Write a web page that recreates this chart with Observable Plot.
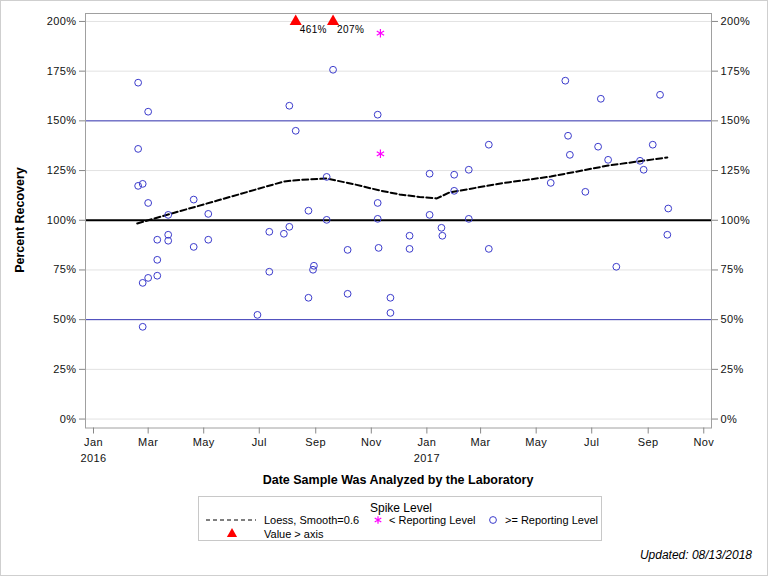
<!DOCTYPE html>
<html>
<head>
<meta charset="utf-8">
<script src="https://cdn.jsdelivr.net/npm/d3@7"></script>
<script src="https://cdn.jsdelivr.net/npm/@observablehq/plot@0.6"></script>
<style>
  body { margin: 0; background: #fff; font-family: "Liberation Sans", Arial, sans-serif; }
  #wrap { position: relative; width: 768px; height: 576px; overflow: hidden; background: #fff; }
  #chart { position: absolute; left: 0; top: 0; }
  #chart svg { font-family: "Liberation Sans", Arial, sans-serif; letter-spacing: 0.4px; }
  .ttl { position: absolute; font-weight: bold; font-size: 12.5px; color: #000; white-space: nowrap; }
  #ytitle { left: 20px; top: 220px; transform: translate(-50%, -50%) rotate(-90deg); }
  #xtitle { left: 398px; top: 480px; transform: translate(-50%, -50%); }
  #legend { position: absolute; left: 198px; top: 496px; }
  #updated { position: absolute; right: 16px; top: 548px; font-style: italic; font-size: 12px; color: #000; }
  #border { position: absolute; left: 0; top: 0; width: 768px; height: 576px; box-sizing: border-box; border: 1px solid #cfcfcf; pointer-events: none; }
</style>
</head>
<body>
<div id="wrap">
  <div id="chart"></div>
  <div class="ttl" id="ytitle">Percent Recovery</div>
  <div class="ttl" id="xtitle">Date Sample Was Analyzed by the Laboratory</div>
  <div id="legend"></div>
  <div id="updated">Updated: 08/13/2018</div>
  <div id="border"></div>
</div>
<script>
// Spike recoveries at or above the reporting level (open circles)
const circleDates = [
  "2016-02-19", "2016-03-01", "2016-02-19", "2016-02-19", "2016-02-24", "2016-03-01",
  "2016-04-20", "2016-03-23", "2016-05-06", "2016-03-11", "2016-03-23", "2016-03-23",
  "2016-04-20", "2016-05-06", "2016-03-11", "2016-02-24", "2016-03-01", "2016-03-11",
  "2016-02-24", "2016-06-29", "2016-07-12", "2016-07-12", "2016-07-28", "2016-08-03",
  "2016-08-03", "2016-08-10", "2016-08-24", "2016-08-24", "2016-08-30", "2016-08-29",
  "2016-09-13", "2016-09-13", "2016-09-20", "2016-10-06", "2016-10-06", "2016-11-08",
  "2016-11-08", "2016-11-08", "2016-11-09", "2016-11-22", "2016-11-22", "2016-12-13",
  "2016-12-13", "2017-01-04", "2017-01-04", "2017-01-17", "2017-01-18", "2017-01-31",
  "2017-01-31", "2017-02-16", "2017-02-16", "2017-03-10", "2017-03-10", "2017-05-17",
  "2017-06-02", "2017-06-05", "2017-06-07", "2017-06-24", "2017-07-08", "2017-07-11",
  "2017-07-19", "2017-07-28", "2017-08-23", "2017-08-27", "2017-09-06", "2017-09-14",
  "2017-09-23", "2017-09-22"
];
const circleValues = [
  169.2, 154.6, 135.9, 117.3, 118.3, 108.7,
  110.4, 102.7, 103.2, 90.2, 92.7, 89.7,
  86.6, 90.2, 80.1, 68.5, 71.0, 72.1,
  46.4, 52.4, 94.2, 74.1, 93.2, 96.7,
  157.6, 145.0, 104.8, 61.0, 77.1, 75.1,
  121.8, 100.2, 175.7, 85.1, 63.0, 153.1,
  108.7, 100.7, 86.1, 61.0, 53.4, 92.2,
  85.6, 123.4, 102.7, 96.2, 92.2, 122.9,
  114.8, 125.4, 100.7, 138.0, 85.6, 118.8,
  170.2, 142.5, 132.9, 114.3, 137.0, 161.1,
  130.4, 76.6, 129.9, 125.4, 138.0, 163.1,
  105.9, 92.7
];

// Spike recoveries below the reporting level (asterisks)
const starDates = ["2016-11-11", "2016-11-11"];
const starValues = [194.1, 133.4];

// Recoveries beyond the top of the axis, drawn at the axis limit
const overDates = ["2016-08-10", "2016-09-20"];
const overValues = [461, 207];

// Loess fit, smoothing parameter 0.6
const loessDates = [
  "2016-02-18", "2016-03-23", "2016-05-16", "2016-07-28", "2016-08-15", "2016-09-13",
  "2016-10-14", "2016-11-10", "2016-12-02", "2016-12-24", "2017-01-12", "2017-01-26",
  "2017-03-23", "2017-05-17", "2017-07-19", "2017-09-22"
];
const loessValues = [
  98.4, 102.9, 109.9, 119.5, 120.3, 121.0,
  118.0, 115.0, 113.0, 111.7, 111.0, 114.0,
  118.5, 122.0, 127.5, 131.6
];

// Axis ticks
const yTicks = [0, 25, 50, 75, 100, 125, 150, 175, 200];
const xTicks = [
  "2016-01-01", "2016-03-01", "2016-05-01", "2016-07-01", "2016-09-01", "2016-11-01",
  "2017-01-01", "2017-03-01", "2017-05-01", "2017-07-01", "2017-09-01", "2017-11-01"
];
const monthNames = ["Jan","Feb","Mar","Apr","May","Jun","Jul","Aug","Sep","Oct","Nov","Dec"];
const yMax = 200;

const circles = circleDates.map((d, i) => ({date: new Date(d), value: circleValues[i]}));
const stars = starDates.map((d, i) => ({date: new Date(d), value: starValues[i]}));
const over = overDates.map((d, i) => ({date: new Date(d), value: overValues[i]}));
const loess = loessDates.map((d, i) => ({date: new Date(d), value: loessValues[i]}));
const tickDates = xTicks.map(d => new Date(d));
const janDates = tickDates.filter(d => d.getUTCMonth() === 0);

const blue = "#3b3bcc";
const refBlue = "#3a3ab8";

const chart = Plot.plot({
  width: 768,
  height: 490,
  marginLeft: 85,
  marginRight: 57,
  marginTop: 13,
  marginBottom: 62.5,
  style: {fontSize: "11px", color: "#111", background: "transparent"},
  x: {type: "utc", domain: [new Date("2015-12-23T05:00Z"), new Date("2017-11-09T12:00Z")]},
  y: {domain: [-4.5, 204]},
  marks: [
    Plot.gridY(yTicks, {stroke: "#e2e2e2", strokeOpacity: 1}),
    Plot.ruleY([150, 50], {stroke: refBlue, strokeWidth: 1}),
    Plot.ruleY([100], {stroke: "#000", strokeWidth: 2}),
    Plot.frame({stroke: "#a0a0a0"}),
    Plot.axisY(yTicks, {anchor: "left", tickFormat: d => d + "%", tickSize: 6, tickPadding: 3, label: null, stroke: "#888"}),
    Plot.axisY(yTicks, {anchor: "right", tickFormat: d => d + "%", tickSize: 6, tickPadding: 3, label: null, stroke: "#888"}),
    Plot.axisX(tickDates, {anchor: "bottom", tickFormat: d => monthNames[d.getUTCMonth()], tickSize: 6, tickPadding: 4, label: null, stroke: "#888"}),
    Plot.axisX(janDates, {anchor: "bottom", tickFormat: d => String(d.getUTCFullYear()), tickSize: 0, tickPadding: 26, label: null}),
    Plot.line(loess, {x: "date", y: "value", stroke: "#000", strokeWidth: 2, strokeDasharray: "6,3"}),
    Plot.dot(circles, {x: "date", y: "value", r: 3.4, stroke: blue, strokeWidth: 1, fill: "none"}),
    Plot.dot(stars, {x: "date", y: "value", symbol: "asterisk", r: 4, stroke: "#ff00ff", strokeWidth: 1.2}),
    Plot.dot(over, {x: "date", y: d => Math.min(d.value, yMax), symbol: "triangle", r: 4.5, fill: "#ff0000", stroke: "none"}),
    Plot.text(over, {x: "date", y: d => Math.min(d.value, yMax), text: d => d.value + "%", textAnchor: "start", dx: 4, dy: 8, fontSize: 10, fill: "#000"})
  ]
});
document.getElementById("chart").appendChild(chart);

// Legend box
const lg = d3.select("#legend").append("svg")
  .attr("width", 404).attr("height", 45)
  .style("font-family", '"Liberation Sans", Arial, sans-serif')
  .style("font-size", "11px");
lg.append("rect").attr("x", 0.5).attr("y", 0.5).attr("width", 403).attr("height", 44)
  .attr("fill", "#fff").attr("stroke", "#c8c8c8");
lg.append("text").attr("x", 203).attr("y", 12).attr("dy", "0.35em").attr("text-anchor", "middle")
  .attr("font-size", "12px").text("Spike Level");
const row1 = 24, row2 = 38;
lg.append("line").attr("x1", 8).attr("x2", 58).attr("y1", row1).attr("y2", row1)
  .attr("stroke", "#000").attr("stroke-dasharray", "4,3");
lg.append("text").attr("x", 66).attr("y", row1).attr("dy", "0.35em").text("Loess, Smooth=0.6");
lg.append("path").attr("transform", `translate(180,${row1})`)
  .attr("d", d3.symbol(d3.symbolAsterisk, 40)()).attr("stroke", "#ff00ff").attr("fill", "none").attr("stroke-width", 1.2);
lg.append("text").attr("x", 191).attr("y", row1).attr("dy", "0.35em").text("< Reporting Level");
lg.append("circle").attr("cx", 295).attr("cy", row1).attr("r", 3.4)
  .attr("stroke", blue).attr("fill", "none");
lg.append("text").attr("x", 307).attr("y", row1).attr("dy", "0.35em").text(">= Reporting Level");
lg.append("path").attr("transform", `translate(34,${row2})`)
  .attr("d", d3.symbol(d3.symbolTriangle, 45)()).attr("fill", "#ff0000");
lg.append("text").attr("x", 66).attr("y", row2).attr("dy", "0.35em").text("Value > axis");
</script>
</body>
</html>
